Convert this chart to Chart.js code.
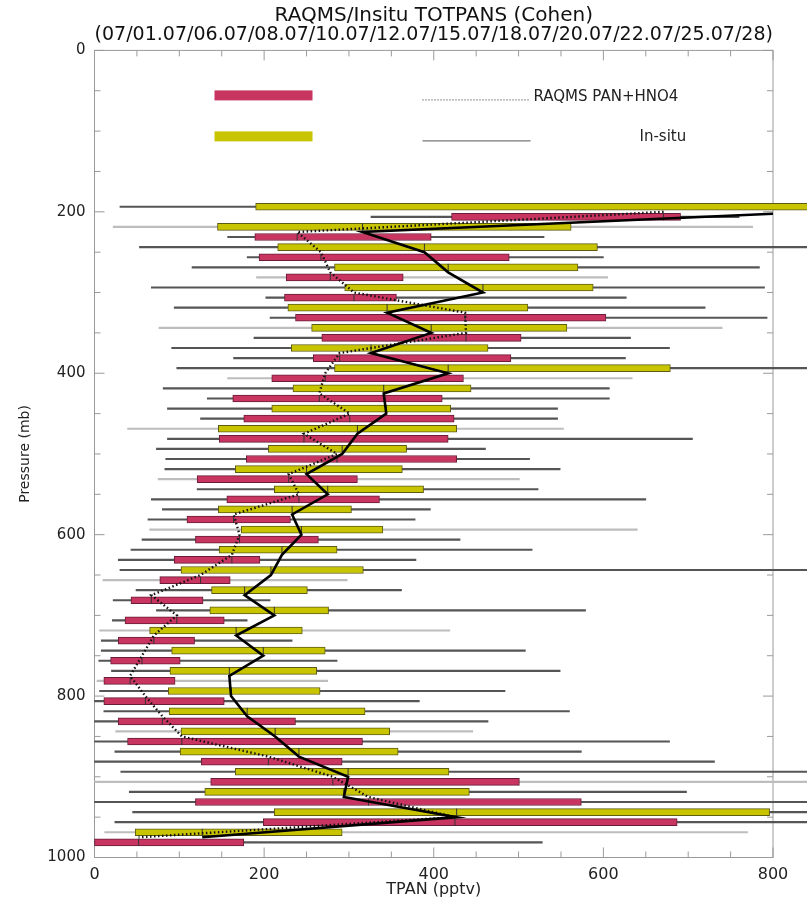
<!DOCTYPE html>
<html>
<head>
<meta charset="utf-8">
<title>RAQMS/Insitu TOTPANS (Cohen)</title>
<script src="https://cdn.jsdelivr.net/npm/chart.js@4.4.0/dist/chart.umd.min.js"></script>
<style>
    html, body { margin: 0; padding: 0; background: #fff; }
    #wrap { width: 807px; height: 902px; position: relative; }
</style>
</head>
<body>
<div id="wrap"><canvas id="tpanChart"></canvas></div>
<script>
// pressure bins (mb), one in-situ and one RAQMS box per bin
const pressureBins = [200, 225, 250, 275, 300, 325, 350, 375, 400, 425, 450, 475, 500, 525, 550, 575,
    600, 625, 650, 675, 700, 725, 750, 775, 800, 825, 850, 875, 900, 925, 950, 975];

// In-situ TPAN (pptv): whisker low, box low, median, box high, whisker high
const insituMin = [30, 22, 53, 115, 67, 94, 76, 91, 97, 81, 86, 39, 73, 83, 121, 80,
    65, 43, 30, 49, 73, 6, 8, 20, 6, 11, 25, 24, 31, 41, 45, 12];
const insituQ1 = [190, 145, 216, 283, 295, 228, 256, 232, 283, 234, 209, 146, 205, 166, 212, 146,
    173, 147, 102, 138, 136, 65, 91, 89, 87, 88, 102, 101, 166, 130, 212, 48];
const insituMedian = [850, 316, 389, 417, 458, 345, 397, 326, 417, 341, 344, 310, 292, 250, 275, 233,
    244, 221, 208, 177, 212, 167, 199, 159, 161, 180, 213, 241, 299, 294, 427, 127];
const insituQ3 = [900, 562, 593, 570, 588, 511, 557, 464, 679, 444, 420, 427, 368, 363, 388, 303,
    340, 286, 317, 251, 276, 245, 272, 262, 266, 319, 348, 358, 418, 442, 796, 292];
const insituMax = [950, 776, 900, 784, 790, 720, 740, 678, 900, 607, 546, 553, 461, 549, 523, 396,
    640, 516, 900, 362, 579, 419, 508, 549, 484, 560, 446, 574, 900, 698, 900, 770];

// RAQMS PAN+HNO4 (pptv)
const raqmsMin = [326, 157, 180, 191, 202, 207, 188, 164, 157, 133, 125, 86, 84, 75, 67, 63,
    56, 28, 10, 22, 21, 8, 5, 3, 0, 0, 0, 0, 0, 0, 24, 0];
const raqmsQ1 = [421, 189, 194, 226, 224, 237, 268, 258, 209, 163, 176, 147, 179, 121, 156, 109,
    119, 94, 77, 43, 36, 28, 19, 11, 11, 28, 39, 126, 137, 119, 199, 0];
const raqmsMedian = [671, 239, 267, 278, 306, 437, 438, 289, 272, 265, 301, 247, 286, 229, 241, 164,
    171, 162, 125, 67, 97, 70, 56, 42, 60, 80, 103, 205, 281, 323, 425, 52];
const raqmsQ3 = [691, 397, 489, 364, 356, 603, 503, 491, 435, 410, 424, 417, 427, 310, 336, 231,
    264, 195, 160, 128, 153, 118, 101, 95, 153, 237, 316, 292, 501, 574, 687, 176];
const raqmsMax = [760, 530, 600, 605, 627, 793, 632, 626, 634, 607, 546, 705, 513, 501, 650, 378,
    431, 379, 298, 207, 180, 233, 286, 275, 383, 464, 678, 731, 900, 900, 900, 528];

const xTicks = [0, 200, 400, 600, 800];
const yTicks = [0, 200, 400, 600, 800, 1000];

const titleLines = [
    "RAQMS/Insitu TOTPANS (Cohen)",
    "(07/01.07/06.07/08.07/10.07/12.07/15.07/18.07/20.07/22.07/25.07/28)",
];

// -----------------------------
// styles
// -----------------------------
const RAQMS_COLOR = "#c73560";
const INSITU_COLOR = "#c8c400";
const WHISKER_DARK = "#555555";
const WHISKER_LIGHT = "#bdbdbd";
const ROW_SHIFT = 6.25; // in-situ row above the bin, RAQMS row below

Chart.defaults.font.family = "'DejaVu Sans', sans-serif";
Chart.defaults.color = "#222";

const insituRowY = pressureBins.map((p) => p - ROW_SHIFT);
const raqmsRowY = pressureBins.map((p) => p + ROW_SHIFT);

// every fifth whisker (in plotting order) is drawn light grey
const whiskerColor = (rowIndex) => (rowIndex % 5 === 2 ? WHISKER_LIGHT : WHISKER_DARK);

function rangeData(rows, lo, hi) {
    return rows.map((y, i) => ({ y: y, x: [lo[i], hi[i]] }));
}

function pointData(rows, values) {
    return rows.map((y, i) => ({ y: y, x: values[i] }));
}

// -----------------------------
// plugins: box frame with inward ticks, in-plot legend
// -----------------------------
const frameTicks = {
    id: "frameTicks",
    beforeDatasetsDraw(chart) {
        const { ctx, chartArea: a, scales } = chart;
        ctx.save();
        ctx.strokeStyle = "#9a9a9a";
        ctx.lineWidth = 1;
        ctx.strokeRect(a.left, a.top, a.right - a.left, a.bottom - a.top);
        ctx.beginPath();
        for (let v = 0; v <= 800; v += 50) {
            const px = scales.x.getPixelForValue(v);
            const len = v % 200 === 0 ? 10 : 6;
            ctx.moveTo(px, a.bottom); ctx.lineTo(px, a.bottom - len);
            ctx.moveTo(px, a.top); ctx.lineTo(px, a.top + len);
        }
        for (let p = 0; p <= 1000; p += 50) {
            const py = scales.y.getPixelForValue(p);
            const len = p % 200 === 0 ? 10 : 6;
            ctx.moveTo(a.left, py); ctx.lineTo(a.left + len, py);
            ctx.moveTo(a.right, py); ctx.lineTo(a.right - len, py);
        }
        ctx.stroke();
        ctx.restore();
    },
};

const plotLegend = {
    id: "plotLegend",
    afterDatasetsDraw(chart) {
        const { ctx, chartArea: a } = chart;
        ctx.save();
        ctx.fillStyle = RAQMS_COLOR;
        ctx.fillRect(a.left + 120, a.top + 40, 98, 10);
        ctx.fillStyle = INSITU_COLOR;
        ctx.fillRect(a.left + 120, a.top + 81, 98, 10);

        ctx.strokeStyle = "#555";
        ctx.lineWidth = 1.3;
        ctx.setLineDash([1, 2]);
        ctx.beginPath();
        ctx.moveTo(a.left + 328, a.top + 49.5);
        ctx.lineTo(a.left + 436, a.top + 49.5);
        ctx.stroke();
        ctx.setLineDash([]);
        ctx.lineWidth = 1;
        ctx.beginPath();
        ctx.moveTo(a.left + 328, a.top + 90.5);
        ctx.lineTo(a.left + 436, a.top + 90.5);
        ctx.stroke();

        ctx.fillStyle = "#222";
        ctx.font = "15px 'DejaVu Sans', sans-serif";
        ctx.textBaseline = "middle";
        ctx.fillText("RAQMS PAN+HNO4", a.left + 439, a.top + 47);
        ctx.fillText("In-situ", a.left + 545, a.top + 86.5);
        ctx.restore();
    },
};

// -----------------------------
// chart
// -----------------------------
const barCommon = {
    type: "bar",
    grouped: false,
    clip: false,
    borderSkipped: false,
};

new Chart(document.getElementById("tpanChart"), {
    data: {
        datasets: [
            {
                type: "line",
                label: "In-situ median",
                data: pointData(pressureBins, insituMedian),
                borderColor: "#000",
                borderWidth: 2.6,
                pointRadius: 0,
                order: 1,
            },
            {
                type: "line",
                label: "RAQMS median",
                data: pointData(pressureBins, raqmsMedian),
                borderColor: "#111",
                borderWidth: 2.4,
                borderDash: [1.5, 2.5],
                pointRadius: 0,
                order: 2,
            },
            {
                type: "scatter",
                label: "medians",
                data: pointData(insituRowY, insituMedian).concat(pointData(raqmsRowY, raqmsMedian)),
                pointStyle: "line",
                rotation: 90,
                radius: 3.5,
                borderColor: "#333",
                borderWidth: 1,
                clip: false,
                order: 3,
            },
            {
                ...barCommon,
                label: "In-situ",
                data: rangeData(insituRowY, insituQ1, insituQ3),
                backgroundColor: INSITU_COLOR,
                borderColor: "#5e5c14",
                borderWidth: 1,
                barThickness: 7,
                order: 4,
            },
            {
                ...barCommon,
                label: "RAQMS PAN+HNO4",
                data: rangeData(raqmsRowY, raqmsQ1, raqmsQ3),
                backgroundColor: RAQMS_COLOR,
                borderColor: "#6a1c38",
                borderWidth: 1,
                barThickness: 7,
                order: 5,
            },
            {
                ...barCommon,
                label: "In-situ range",
                data: rangeData(insituRowY, insituMin, insituMax),
                backgroundColor: insituRowY.map((_, k) => whiskerColor(2 * k)),
                barThickness: 1.5,
                order: 6,
            },
            {
                ...barCommon,
                label: "RAQMS range",
                data: rangeData(raqmsRowY, raqmsMin, raqmsMax),
                backgroundColor: raqmsRowY.map((_, k) => whiskerColor(2 * k + 1)),
                barThickness: 1.5,
                order: 7,
            },
        ],
    },
    options: {
        indexAxis: "y",
        responsive: true,
        maintainAspectRatio: false,
        animation: false,
        events: [],
        layout: { padding: { left: 0, right: 34, top: 0, bottom: 0 } },
        plugins: {
            legend: { display: false },
            tooltip: { enabled: false },
            title: {
                display: true,
                text: titleLines,
                fullSize: false,
                color: "#111",
                font: { size: 20, weight: "normal", lineHeight: 0.91 },
                padding: { top: 7, bottom: 7 },
            },
        },
        scales: {
            x: {
                type: "linear",
                position: "bottom",
                min: 0,
                max: 800,
                grid: { display: false, drawTicks: false },
                border: { display: false },
                afterBuildTicks: (scale) => { scale.ticks = xTicks.map((v) => ({ value: v })); },
                afterFit: (scale) => { scale.height = 44.5; },
                ticks: {
                    font: { size: 16 },
                    padding: 8,
                    color: "#222",
                    callback: (value) => String(value),
                },
                title: {
                    display: true,
                    text: "TPAN (pptv)",
                    font: { size: 16 },
                    padding: { top: 0, bottom: 3 },
                    color: "#222",
                },
            },
            y: {
                type: "linear",
                position: "left",
                reverse: true,
                offset: false,
                min: 0,
                max: 1000,
                grid: { display: false, drawTicks: false, offset: false },
                border: { display: false },
                afterBuildTicks: (scale) => { scale.ticks = yTicks.map((v) => ({ value: v })); },
                afterFit: (scale) => { scale.width = 94.5; },
                ticks: {
                    font: { size: 15 },
                    padding: 9,
                    color: "#222",
                    callback: (value) => String(value),
                },
                title: {
                    display: true,
                    text: "Pressure (mb)",
                    font: { size: 14 },
                    padding: { top: 17, bottom: 0 },
                    color: "#222",
                },
            },
        },
    },
    plugins: [frameTicks, plotLegend],
});
</script>
</body>
</html>
